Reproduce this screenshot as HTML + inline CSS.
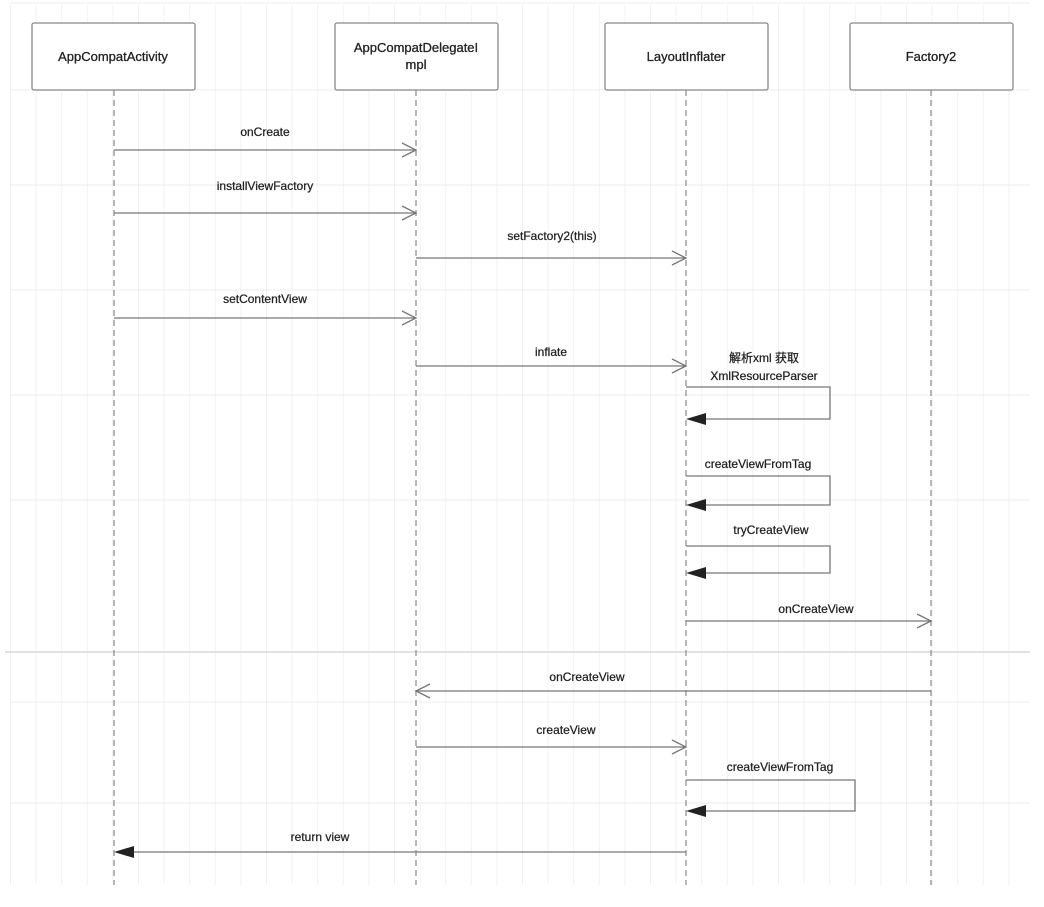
<!DOCTYPE html>
<html><head><meta charset="utf-8"><style>
body{margin:0;background:#fff;}
svg{display:block;font-family:"Liberation Sans","Noto Sans CJK SC",sans-serif;}
</style></head><body>
<svg width="1044" height="907" viewBox="0 0 1044 907" xmlns="http://www.w3.org/2000/svg">
<defs>
<pattern id="g" x="10" y="0" width="25.6" height="907" patternUnits="userSpaceOnUse">
<line x1="0.5" y1="0" x2="0.5" y2="907" stroke="#f2f2f2" stroke-width="1"/>
</pattern>
</defs>
<rect x="10" y="5" width="1020" height="880" fill="url(#g)"/>
<g stroke="#ececec" stroke-width="1">
<line x1="10" y1="3" x2="1030" y2="3"/>
<line x1="10" y1="90" x2="1030" y2="90"/>
<line x1="10" y1="185" x2="1030" y2="185"/>
<line x1="10" y1="290" x2="1030" y2="290"/>
<line x1="10" y1="395" x2="1030" y2="395"/>
<line x1="10" y1="500" x2="1030" y2="500"/>
<line x1="10" y1="702" x2="1030" y2="702"/>
<line x1="10" y1="803" x2="1030" y2="803"/>
</g>
<line x1="5" y1="652" x2="1030" y2="652" stroke="#d8d8d8" stroke-width="1.5"/>
<g fill="#fff" stroke="#888" stroke-width="1.3">
<rect x="32" y="23" width="163" height="67" rx="2"/>
<rect x="335" y="23" width="163" height="67" rx="2"/>
<rect x="605" y="23" width="163" height="67" rx="2"/>
<rect x="850" y="23" width="163" height="67" rx="2"/>
</g>
<g font-size="13" fill="#222" stroke="#222" stroke-width="0.3" text-anchor="middle">
<text x="113" y="61">AppCompatActivity</text>
<text x="416" y="52">AppCompatDelegateI</text>
<text x="416" y="69">mpl</text>
<text x="686" y="61">LayoutInflater</text>
<text x="931" y="61">Factory2</text>
</g>
<g stroke="#888" stroke-width="1.2" stroke-dasharray="6,4">
<line x1="114" y1="90" x2="114" y2="885"/>
<line x1="416" y1="90" x2="416" y2="885"/>
<line x1="686" y1="90" x2="686" y2="885"/>
<line x1="931" y1="90" x2="931" y2="885"/>
</g>
<g stroke="#777" stroke-width="1.3" fill="none">
<line x1="114" y1="150" x2="416" y2="150"/><polyline points="402,143 416,150 402,157"/>
<line x1="114" y1="213" x2="416" y2="213"/><polyline points="402,206 416,213 402,220"/>
<line x1="416" y1="258" x2="686" y2="258"/><polyline points="672,251 686,258 672,265"/>
<line x1="114" y1="318" x2="416" y2="318"/><polyline points="402,311 416,318 402,325"/>
<line x1="416" y1="366" x2="686" y2="366"/><polyline points="672,359 686,366 672,373"/>
<polyline points="686,387 830,387 830,419 700,419"/>
<polyline points="686,476 830,476 830,505 700,505"/>
<polyline points="686,546 830,546 830,573 700,573"/>
<line x1="686" y1="621" x2="931" y2="621"/><polyline points="917,614 931,621 917,628"/>
<line x1="931" y1="691" x2="416" y2="691"/><polyline points="430,684 416,691 430,698"/>
<line x1="416" y1="747" x2="686" y2="747"/><polyline points="672,740 686,747 672,754"/>
<polyline points="686,780 855,780 855,811 700,811"/>
<line x1="686" y1="852" x2="128" y2="852"/>
</g>
<g fill="#222">
<polygon points="686,419 706,413 706,425"/>
<polygon points="686,505 706,499 706,511"/>
<polygon points="686,573 706,567 706,579"/>
<polygon points="686,811 706,805 706,817"/>
<polygon points="114,852 134,846 134,858"/>
</g>
<g font-size="12" fill="#222" stroke="#222" stroke-width="0.25" text-anchor="middle">
<text x="265" y="136">onCreate</text>
<text x="265" y="190">installViewFactory</text>
<text x="552" y="240">setFactory2(this)</text>
<text x="265" y="303">setContentView</text>
<text x="551" y="356">inflate</text>
<text x="764" y="362">解析xml 获取</text>
<text x="764" y="380">XmlResourceParser</text>
<text x="758" y="468">createViewFromTag</text>
<text x="771" y="534">tryCreateView</text>
<text x="816" y="613">onCreateView</text>
<text x="587" y="681">onCreateView</text>
<text x="566" y="734">createView</text>
<text x="780" y="771">createViewFromTag</text>
<text x="320" y="841">return view</text>
</g>
</svg>
</body></html>
